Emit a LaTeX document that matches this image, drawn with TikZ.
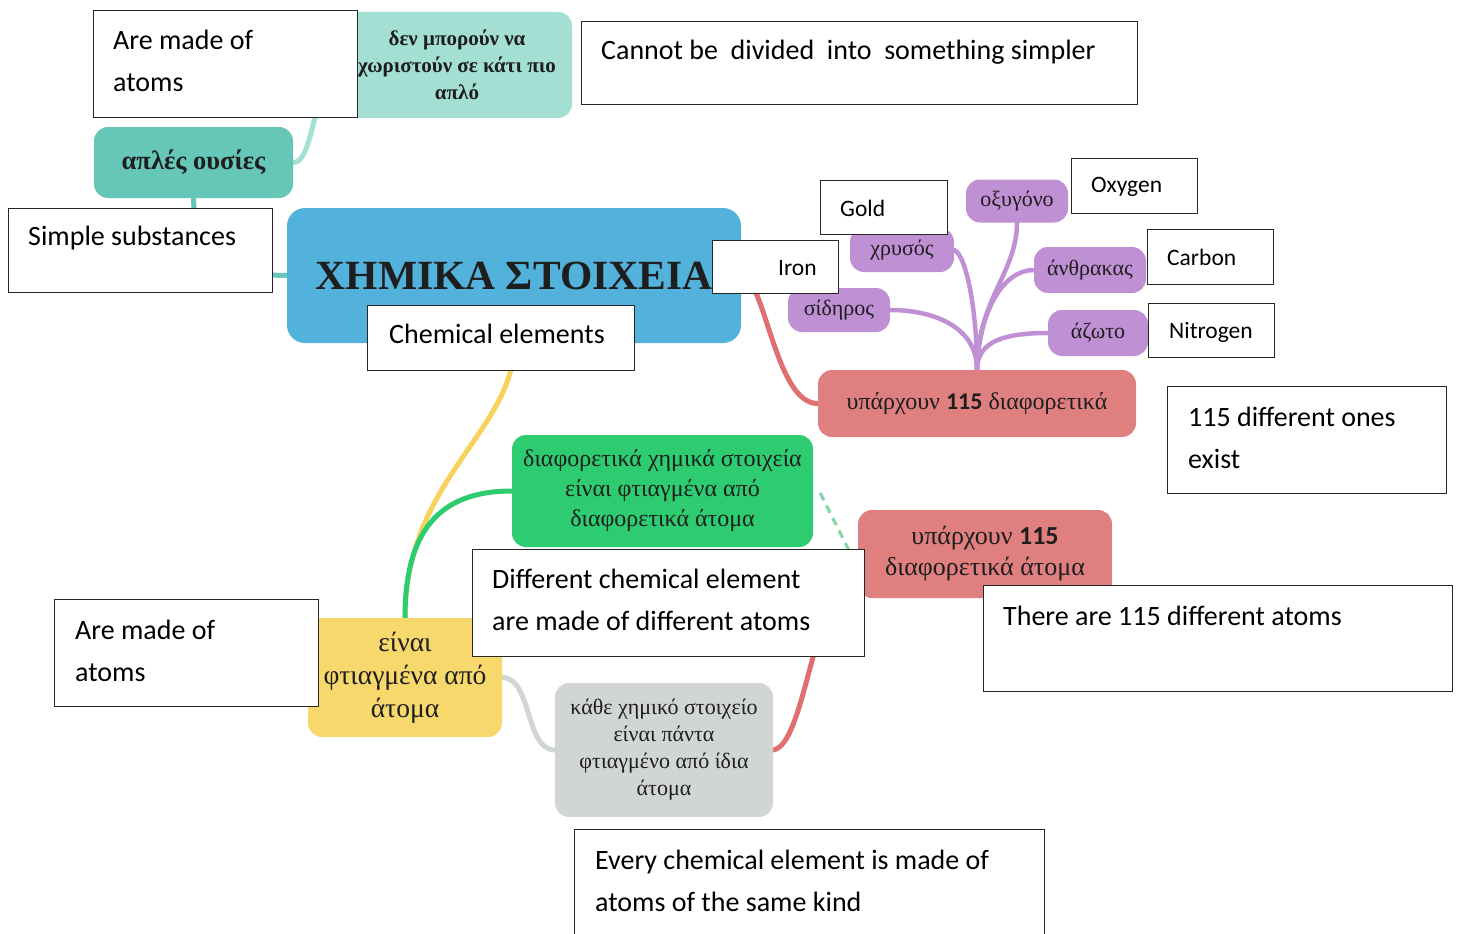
\documentclass[tikz,border=0pt]{standalone}
\usepackage{fontspec}
\setmainfont{Liberation Serif}
\newfontfamily\carl{Carlito}
\usetikzlibrary{calc}
\pgfdeclarelayer{bg}
\pgfsetlayers{bg,main}
\definecolor{tealL}{HTML}{A3DFD2}
\definecolor{tealD}{HTML}{66C6B8}
\definecolor{blueC}{HTML}{53B2DB}
\definecolor{redC}{HTML}{E07F80}
\definecolor{redL}{HTML}{E07070}
\definecolor{purpC}{HTML}{C090D5}
\definecolor{greenC}{HTML}{2ECC71}
\definecolor{greenL}{HTML}{7FD8A5}
\definecolor{yelC}{HTML}{F7D86C}
\definecolor{yelL}{HTML}{F7D35B}
\definecolor{grayC}{HTML}{D2D6D2}
\definecolor{txt}{HTML}{1E1E1E}
\tikzset{
  mm/.style={rounded corners=14pt, inner sep=0pt, align=center, text=txt},
  wbox/.style={draw=black!85, line width=1.3pt, fill=white, inner sep=0pt, anchor=north west},
  btext/.style={font={\carl\fontsize{28}{42}\selectfont}, align=left, inner sep=0pt, anchor=west},
  stext/.style={font={\carl\fontsize{23.5}{26}\selectfont}, inner sep=0pt, anchor=west},
  conn/.style={line width=5pt, line cap=round},
  pconn/.style={line width=4.5pt, line cap=round, draw=purpC}
}
\begin{document}
\begin{tikzpicture}[x=1pt,y=-1pt]
\useasboundingbox (0,0) rectangle (1459,934);

% mind-map nodes
\node[mm, fill=tealL, minimum width=230pt, minimum height=106pt, font={\bfseries\fontsize{21}{27}\selectfont}] (ntop) at (457,65) {δεν μπορούν να\\χωριστούν σε κάτι πιο\\απλό};
\node[mm, fill=tealD, minimum width=199pt, minimum height=71pt, font={\bfseries\fontsize{26.5}{30}\selectfont}] (naples) at (193.5,162.5) {απλές ουσίες};
\node[mm, rounded corners=18pt, fill=blueC, minimum width=454pt, minimum height=135pt, font={\bfseries\fontsize{41.5}{48}\selectfont}] (ncenter) at (514,275.5) {ΧΗΜΙΚΑ ΣΤΟΙΧΕΙΑ};
\node[mm, fill=redC, minimum width=318pt, minimum height=67pt, font={\fontsize{24}{28}\selectfont}] (nred1) at (977,403.5) {υπάρχουν {\carl\bfseries 115} διαφορετικά};
\node[mm, fill=purpC, minimum width=102pt, minimum height=44pt, font={\fontsize{22}{24}\selectfont}] (nsid) at (839,310) {σίδηρος};
\node[mm, fill=purpC, minimum width=104pt, minimum height=44pt, font={\fontsize{22}{24}\selectfont}] (nchr) at (902,250) {χρυσός};
\node[mm, fill=purpC, minimum width=102pt, minimum height=43pt, font={\fontsize{22}{24}\selectfont}] (noxy) at (1017,201) {οξυγόνο};
\node[mm, fill=purpC, minimum width=112pt, minimum height=46pt, font={\fontsize{22}{24}\selectfont}] (nanth) at (1090,270) {άνθρακας};
\node[mm, fill=purpC, minimum width=100pt, minimum height=46pt, font={\fontsize{22}{24}\selectfont}] (nazo) at (1098,333) {άζωτο};
\node[mm, fill=greenC, minimum width=301pt, minimum height=112pt, font={\fontsize{24}{30}\selectfont}] (ngreen) at (662.5,491) {διαφορετικά χημικά στοιχεία\\είναι φτιαγμένα από\\διαφορετικά άτομα};
\node[mm, fill=redC, minimum width=254pt, minimum height=88pt, font={\fontsize{26}{31}\selectfont}] (nred2) at (985,554) {υπάρχουν {\carl\bfseries 115}\\διαφορετικά άτομα};
\node[mm, fill=yelC, minimum width=194pt, minimum height=119pt, font={\fontsize{27.5}{33}\selectfont}] (nyel) at (405,677.5) {είναι\\φτιαγμένα από\\άτομα};
\node[mm, fill=grayC, minimum width=218pt, minimum height=134pt, font={\fontsize{22}{27}\selectfont}] (ngray) at (664,750) {κάθε χημικό στοιχείο\\είναι πάντα\\φτιαγμένο από ίδια\\άτομα};

% connectors
\begin{pgfonlayer}{bg}
\draw[conn, draw=tealL] (naples.east) .. controls (315,165) and (315,65) .. (ntop.west);
\draw[conn, draw=tealD] (naples.south) .. controls +(0,50) and +(-60,0) .. (ncenter.west);
\draw[conn, draw=redL] (ncenter.east) .. controls (765,276) and (775,404) .. (nred1.west);
\draw[conn, draw=yelL] (ncenter.south) .. controls (515,430) and (405,480) .. (nyel.north);
\draw[conn, draw=greenC] (nyel.north) .. controls (405,530) and (440,491) .. (ngreen.west);
\draw[conn, draw=grayC] (nyel.east) .. controls +(30,0) and +(-30,0) .. (ngray.west);
\draw[conn, draw=redL] (ngray.east) .. controls (805,745) and (812,600) .. (nred2.west);
\draw[line width=3pt, draw=greenL, dash pattern=on 8pt off 6pt] ($(ngreen.east)+(7,2)$) -- ($(nred2.west)+(0,14)$);
\draw[pconn] (nred1.north) .. controls +(0,-45) and +(40,0) .. (nsid.east);
\draw[pconn] (nred1.north) .. controls +(0,-60) and +(12,5) .. (nchr.east);
\draw[pconn] (nred1.north) .. controls +(0,-70) and +(0,50) .. (noxy.south);
\draw[pconn] (nred1.north) .. controls +(2,-60) and +(-30,0) .. (nanth.west);
\draw[pconn] (nred1.north) .. controls +(0,-30) and +(-40,0) .. (nazo.west);
\end{pgfonlayer}

% translation boxes
\node[wbox, minimum width=264pt, minimum height=107pt] (bmade1) at (93,10) {};
\node[btext] (tmade1) at (113,60.5) {Are made of\\atoms};
\node[wbox, minimum width=556pt, minimum height=83pt] (bcannot) at (581,21) {};
\node[btext] (tcannot) at (601,52) {Cannot be\ \ divided\ \ into\ \ something simpler};
\node[wbox, minimum width=264pt, minimum height=84pt] (bsimple) at (8,208) {};
\node[btext] (tsimple) at (28,238) {Simple substances};
\node[wbox, minimum width=267pt, minimum height=65pt] (bchem) at (367,305) {};
\node[btext] (tchem) at (389,334) {Chemical elements};
\node[wbox, minimum width=126pt, minimum height=53pt] (biron) at (712,240) {};
\node[stext] (tiron) at (778,268) {Iron};
\node[wbox, minimum width=127pt, minimum height=54pt] (bgold) at (820,180) {};
\node[stext] (tgold) at (840,208) {Gold};
\node[wbox, minimum width=126pt, minimum height=55pt] (boxy) at (1071,158) {};
\node[stext] (toxy) at (1091,187) {Oxygen};
\node[wbox, minimum width=126pt, minimum height=55pt] (bcarb) at (1147,229) {};
\node[stext] (tcarb) at (1167,257) {Carbon};
\node[wbox, minimum width=126pt, minimum height=54pt] (bnitro) at (1148,303) {};
\node[stext] (tnitro) at (1169,332) {Nitrogen};
\node[wbox, minimum width=279pt, minimum height=107pt] (bexist) at (1167,386) {};
\node[btext] (texist) at (1188,437.5) {115 different ones\\exist};
\node[wbox, minimum width=392pt, minimum height=107pt] (bdiff) at (472,549) {};
\node[btext] (tdiff) at (492,600) {Different chemical element\\are made of different atoms};
\node[wbox, minimum width=469pt, minimum height=106pt] (bthere) at (983,585) {};
\node[btext] (tthere) at (1003,616) {There are 115 different atoms};
\node[wbox, minimum width=264pt, minimum height=107pt] (bmade2) at (54,599) {};
\node[btext] (tmade2) at (75,650.5) {Are made of\\atoms};
\node[wbox, minimum width=470pt, minimum height=120pt] (bevery) at (574,829) {};
\node[btext] (tevery) at (595,881) {Every chemical element is made of\\atoms of the same kind};
\end{tikzpicture}
\end{document}
